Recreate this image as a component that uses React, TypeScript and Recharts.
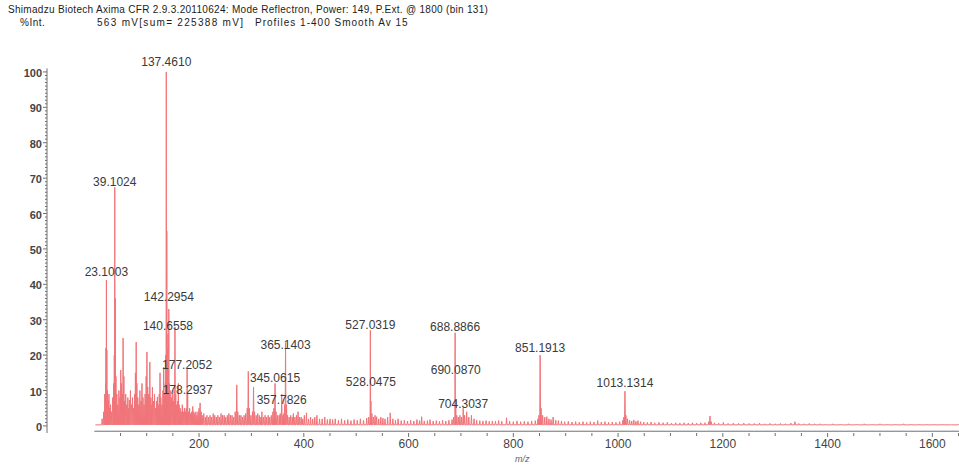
import React from "react";
import { ComposedChart, Line, Scatter, XAxis, YAxis, ReferenceLine } from "recharts";

const WIDTH = 959;
const HEIGHT = 466;
const FONT = "'Liberation Sans', Arial, sans-serif";
const PEAK_COLOR = "#f07479";
const AXIS_COLOR = "#707070";

// Annotated peaks: m/z, %Int. and the height at which the annotation text sits
const LABELED_MZ = [
  23.1003, 39.1024, 137.461, 140.6558, 142.2954, 177.2052, 178.2937, 345.0615, 357.7826,
  365.1403, 527.0319, 528.0475, 688.8866, 690.087, 704.3037, 851.1913, 1013.1314,
];
const LABELED_INT = [41.2, 67.4, 100, 26, 33, 16, 9, 12, 9, 23.5, 27, 7, 26.3, 7, 5, 20, 9.8];
const LABEL_LEVEL = [
  43.4, 68.8, 102.7, 28.2, 36.4, 17.2, 10.1, 13.5, 7.3, 22.8, 28.5, 12.4, 27.9, 15.8, 6.2, 22.0, 12.1,
];

// Unannotated peaks [m/z, %Int.]
const LOW_MASS_PEAKS: [number, number][] = [
  [15, 2], [18, 4], [20, 9], [21.5, 12], [22.3, 22], [24, 21.4], [25, 10], [26.5, 7.3], [28, 9],
  [29.5, 5], [31, 6], [33, 4], [35, 8], [37, 12], [38.2, 20], [40.2, 36], [41.3, 14], [43, 9],
  [45, 6], [47, 10], [49, 8], [50.5, 15.8], [52, 12], [53.5, 9], [55, 24.8], [56.5, 14], [58, 7],
  [60, 9], [62, 6], [64, 8], [65.5, 5], [67, 7.3], [69, 10], [71, 6], [73, 8], [75, 5], [77, 9],
  [78.5, 15], [80, 23.7], [81.3, 12], [83, 8], [85, 6], [87, 10], [89, 7], [91, 12], [93, 8],
  [95, 6], [97, 9], [99, 14], [100.5, 20.9], [102, 11], [104, 9], [106, 18], [108, 8], [109.5, 6],
  [111, 11], [113, 7], [115, 9], [117, 5], [119, 7], [120.5, 8.2], [122, 6], [124, 9], [125.5, 15],
  [127, 8], [129, 6], [131, 10], [132.5, 16.6], [134, 9], [135.5, 12], [136.5, 20], [138.4, 55],
  [139.5, 22], [143.5, 12], [145, 10], [147, 8], [149, 9], [151, 7], [152.5, 10], [154, 28],
  [155.5, 9], [157, 6], [159, 7], [160.5, 12], [162, 6], [164, 5], [166, 4], [168, 6], [170, 4],
  [172, 5], [174, 4], [175.5, 5], [180, 4], [182, 5], [184, 3.5], [186, 4], [188, 5.5], [190, 4],
  [192, 3.5], [194, 4], [196, 3], [198, 4], [200, 5], [202, 6.5], [204, 4], [206, 3], [209, 3.5],
  [212, 2.5], [215, 3], [218, 2.5], [221, 3], [224, 2.5], [227, 3.5], [230, 3], [233, 2.5],
  [236, 3], [239, 2.5], [242, 3.5], [245, 3], [248, 3], [251, 2.5], [254, 3], [257, 3.5],
];

const MID_MASS_PEAKS: [number, number][] = [
  [260, 3], [263, 3], [266, 2.5], [269, 4], [272, 11.6], [274, 4], [277, 3], [280, 3], [283, 2.5],
  [286, 3], [289, 3.5], [292, 5], [294, 15.4], [296, 5], [299, 3], [302, 4], [304, 11], [306, 4],
  [309, 3], [312, 3.5], [315, 3], [318, 2.5], [320, 4], [323, 2.5], [326, 3], [329, 2.5], [332, 3],
  [335, 2.5], [338, 3], [341, 4], [343, 5], [347, 4], [350, 3], [353, 3], [355, 3.5], [360, 3],
  [362, 3.5], [363.5, 6], [367, 6], [369, 3], [372, 2.5], [375, 3], [378, 2.5], [380, 3.5],
  [383, 2.5], [386, 3], [389, 4], [392, 2.5], [395, 2.5], [398, 2], [401, 3], [405, 3.7], [409, 2],
  [413, 2.5], [417, 2], [421, 2.5], [425, 3], [430, 2], [435, 2], [440, 2.5], [445, 1.8], [450, 2],
  [455, 1.8], [460, 2], [466, 1.6], [472, 2], [478, 1.6], [484, 1.8], [490, 1.5], [496, 1.8],
  [502, 1.6], [508, 2], [514, 1.6], [520, 2.2], [524, 2.5], [530, 3.5], [533, 2.5], [536, 3],
  [539, 2.6], [543, 2], [547, 2.5], [551, 2.2], [555, 2], [560, 2.5], [565, 3.7], [570, 2],
  [575, 1.6], [580, 2], [586, 1.5], [592, 1.6], [598, 1.4], [604, 1.6], [610, 1.4], [616, 1.8],
  [621, 1.5], [625, 2.6], [630, 1.4], [636, 1.5], [641, 1.8], [647, 1.4], [653, 1.5], [659, 1.3],
  [665, 1.6], [671, 1.4], [677, 1.6], [683, 1.8], [686, 2.5], [692, 3], [695, 2.5], [698, 3],
];

const HIGH_MASS_PEAKS: [number, number][] = [
  [701, 2.5], [707, 3], [711, 4], [715, 2.5], [720, 3], [725, 2], [730, 1.6], [736, 1.5],
  [742, 1.4], [748, 1.5], [754, 1.3], [760, 1.4], [766, 1.3], [772, 1.5], [778, 1.3], [787, 2.3],
  [793, 1.3], [800, 1.2], [807, 1.4], [814, 1.2], [821, 1.3], [828, 1.2], [835, 1.4], [842, 1.5],
  [847, 2], [849, 3], [853, 5], [856, 3], [860, 2.5], [864, 2.6], [868, 2], [872, 1.8], [876, 2.5],
  [881, 1.6], [886, 1.5], [892, 1.4], [898, 1.2], [905, 1.3], [912, 1.1], [919, 1.2], [926, 1.1],
  [933, 1.2], [940, 1], [947, 1.2], [954, 1.1], [961, 1.5], [968, 1.1], [975, 1.2], [982, 1],
  [989, 1.1], [996, 1], [1003, 1.2], [1009, 1.6], [1011, 2.5], [1015, 3], [1018, 2], [1022, 1.6],
  [1026, 1.4], [1030, 1.7], [1034, 1.3], [1038, 1.5], [1043, 1.2], [1049, 1.1], [1056, 1],
  [1063, 1.1], [1070, 0.9], [1078, 1], [1086, 0.9], [1094, 1], [1102, 0.8], [1110, 0.9],
  [1118, 0.8], [1126, 0.9], [1134, 0.8], [1142, 0.9], [1150, 0.8], [1158, 0.9], [1166, 0.9],
  [1173, 1.2], [1175.5, 2.8], [1178, 1.2], [1184, 0.9], [1192, 0.8], [1201, 1], [1210, 0.7],
  [1220, 0.8], [1230, 0.7], [1240, 0.8], [1250, 0.7], [1260, 0.7], [1270, 0.8], [1280, 0.6],
  [1290, 0.7], [1300, 0.6], [1310, 0.7], [1320, 0.6], [1330, 0.8], [1337.7, 1.2], [1345, 0.7],
  [1355, 0.6], [1365, 0.7], [1375, 0.6], [1385, 0.6], [1395, 0.5], [1410, 0.6], [1425, 0.5],
  [1440, 0.6], [1455, 0.5], [1470, 0.6], [1485, 0.5], [1500, 0.6], [1515, 0.5], [1530, 0.5],
  [1545, 0.6], [1560, 0.5], [1575, 0.5], [1590, 0.5], [1605, 0.5], [1620, 0.5], [1635, 0.4],
  [1650, 0.4],
];

const BASELINE = 0.3;
const SPECTRUM_START = 2;

const X_DOMAIN: [number, number] = [-90.3, 1650.8];
const Y_DOMAIN: [number, number] = [-2, 104.5];
const X_TICK_LABELS = [200, 400, 600, 800, 1000, 1200, 1400, 1600];
const Y_TICK_LABELS = [0, 10, 20, 30, 40, 50, 60, 70, 80, 90, 100];
const X_MINOR_STEP = 50;
const Y_MINOR_STEP = 1;

const xTicks: number[] = [];
for (let v = X_MINOR_STEP; v <= X_DOMAIN[1]; v += X_MINOR_STEP) xTicks.push(v);
const yTicks: number[] = [];
for (let v = 0; v <= 100; v += Y_MINOR_STEP) yTicks.push(v);

// Profile trace: each peak drawn as a narrow spike rising from the baseline
const allPeaks: [number, number][] = [
  ...LOW_MASS_PEAKS,
  ...MID_MASS_PEAKS,
  ...HIGH_MASS_PEAKS,
  ...LABELED_MZ.map((mz, i) => [mz, LABELED_INT[i]] as [number, number]),
].sort((a, b) => a[0] - b[0]);

const spectrum: { mz: number; int: number }[] = [{ mz: SPECTRUM_START, int: BASELINE }];
allPeaks.forEach(([mz, h], i) => {
  const prev = i > 0 ? mz - allPeaks[i - 1][0] : 2;
  const next = i < allPeaks.length - 1 ? allPeaks[i + 1][0] - mz : 2;
  const hw = Math.min(0.9, prev / 2, next / 2);
  spectrum.push({ mz: mz - hw, int: BASELINE });
  spectrum.push({ mz, int: h });
  spectrum.push({ mz: mz + hw, int: BASELINE });
});

const peakLabels = LABELED_MZ.map((mz, i) => ({
  mz,
  level: LABEL_LEVEL[i],
  text: mz.toFixed(4),
}));

const renderPeakLabel = (props: any) => (
  <text
    x={props.cx}
    y={props.cy}
    textAnchor="middle"
    dominantBaseline="central"
    fontFamily={FONT}
    fontSize={12}
    fill="#3a3a3a"
  >
    {props.payload.text}
  </text>
);

const YTick = (props: any) => {
  const { x, y, payload } = props;
  const major = Y_TICK_LABELS.includes(payload.value);
  return (
    <g>
      <line x1={x - (major ? 4 : 2)} x2={x} y1={y} y2={y} stroke={AXIS_COLOR} strokeWidth={1} />
      {major && (
        <text
          x={x - 5}
          y={y + 1}
          textAnchor="end"
          dominantBaseline="central"
          fontFamily={FONT}
          fontSize={11}
          fontWeight="bold"
          fill="#444"
        >
          {payload.value}
        </text>
      )}
    </g>
  );
};

const XTick = (props: any) => {
  const { x, y, payload } = props;
  const major = X_TICK_LABELS.includes(payload.value);
  return (
    <g>
      <line x1={x} x2={x} y1={y} y2={y + (major ? 4 : 3)} stroke={AXIS_COLOR} strokeWidth={1} />
      {major && (
        <text
          x={x}
          y={y + 11}
          textAnchor="middle"
          dominantBaseline="central"
          fontFamily={FONT}
          fontSize={12}
          fill="#444"
        >
          {payload.value}
        </text>
      )}
    </g>
  );
};

const headerStyle: React.CSSProperties = {
  position: "absolute",
  fontFamily: FONT,
  fontSize: 10,
  color: "#1c1c1c",
  whiteSpace: "pre",
  lineHeight: "13px",
};

export default function App() {
  return (
    <div
      style={{
        position: "absolute",
        left: 0,
        top: 0,
        width: WIDTH,
        height: HEIGHT,
        background: "#fff",
        overflow: "hidden",
      }}
    >
      <div style={{ ...headerStyle, left: 8, top: 3, letterSpacing: 0.3 }}>
        Shimadzu Biotech Axima CFR 2.9.3.20110624: Mode Reflectron, Power: 149, P.Ext. @ 1800 (bin 131)
      </div>
      <div style={{ ...headerStyle, left: 20, top: 16, letterSpacing: 0.5 }}>%Int.</div>
      <div style={{ ...headerStyle, left: 97, top: 16, letterSpacing: 1.3 }}>
        563 mV[sum= 225388 mV]
      </div>
      <div style={{ ...headerStyle, left: 255, top: 16, letterSpacing: 1 }}>
        Profiles 1-400 Smooth Av 15
      </div>

      <ComposedChart
        width={WIDTH}
        height={HEIGHT}
        margin={{ top: 56, right: 0, bottom: 3, left: 0 }}
        style={{ position: "absolute", left: 0, top: 0 }}
      >
        <XAxis
          type="number"
          dataKey="mz"
          domain={X_DOMAIN}
          ticks={xTicks}
          interval={0}
          axisLine={false}
          tickLine={false}
          tickSize={0}
          tickMargin={0}
          tick={<XTick />}
          height={30}
        />
        <YAxis
          type="number"
          domain={Y_DOMAIN}
          ticks={yTicks}
          interval={0}
          axisLine={false}
          tickLine={false}
          tickSize={0}
          tickMargin={0}
          tick={<YTick />}
          width={47}
        />
        <ReferenceLine
          segment={[{ x: X_DOMAIN[0], y: -2 }, { x: X_DOMAIN[0], y: 101 }]}
          stroke={AXIS_COLOR}
          strokeWidth={1}
          ifOverflow="visible"
        />
        <ReferenceLine
          segment={[{ x: 0, y: -1.5 }, { x: X_DOMAIN[1], y: -1.5 }]}
          stroke={AXIS_COLOR}
          strokeWidth={1}
          ifOverflow="visible"
        />
        <Line
          data={spectrum}
          dataKey="int"
          type="linear"
          stroke={PEAK_COLOR}
          strokeWidth={1}
          dot={false}
          activeDot={false}
          isAnimationActive={false}
        />
        <Scatter
          data={peakLabels}
          dataKey="level"
          shape={renderPeakLabel}
          isAnimationActive={false}
        />
      </ComposedChart>

      <div
        style={{
          position: "absolute",
          left: 515,
          top: 454,
          fontFamily: FONT,
          fontSize: 9,
          fontStyle: "italic",
          color: "#666",
        }}
      >
        m/z
      </div>
    </div>
  );
}
